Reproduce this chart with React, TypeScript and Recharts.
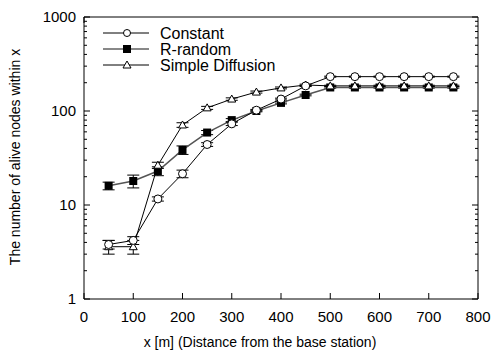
import React from 'react';
import { LineChart, Line, XAxis, YAxis, ErrorBar } from 'recharts';

// distance from base station (m)
const distances = [50, 100, 150, 200, 250, 300, 350, 400, 450, 500, 550, 600, 650, 700, 750];
const constantVals = [3.8, 4.2, 11.6, 21.5, 44, 73, 102, 134, 185, 232, 232, 232, 232, 232, 232];
const constantErr = [0.4, 0.4, 0.6, 2, 2, 3, 2, 3, 3, 3, 3, 3, 3, 3, 3];
const rRandomVals = [16, 18, 23, 38.5, 59, 80, 100, 122, 148, 178, 178, 178, 178, 178, 178];
const rRandomErr = [1.5, 2.8, 2.5, 4, 3, 3, 2, 3, 3, 3, 3, 3, 3, 3, 3];
const diffusionVals = [3.6, 3.6, 26.5, 71, 108, 134, 159, 176, 189, 185, 185, 185, 185, 185, 185];
const diffusionErr = [0.6, 0.6, 2, 4, 4, 4, 4, 4, 4, 3, 3, 3, 3, 3, 3];

const xTicks = [0, 100, 200, 300, 400, 500, 600, 700, 800];
const yTicks = [1, 2, 3, 4, 5, 6, 7, 8, 9, 10, 20, 30, 40, 50, 60, 70, 80, 90, 100, 200, 300, 400, 500, 600, 700, 800, 900, 1000];
const majorY = [1, 10, 100, 1000];

const data = distances.map((x, i) => ({
  x,
  constant: constantVals[i],
  constantErr: constantErr[i],
  rRandom: rRandomVals[i],
  rRandomErr: rRandomErr[i],
  diffusion: diffusionVals[i],
  diffusionErr: diffusionErr[i],
}));

const FONT = '"Liberation Sans", Arial, Helvetica, sans-serif';
const PL = 84;
const PR = 478;
const PT = 17;
const PB = 299;
const RGRAY = '#555';

const LeftTick = (props: any) => {
  const { y, payload } = props;
  const major = majorY.includes(payload.value);
  return (
    <g>
      <line x1={PL} x2={PL + (major ? 6 : 3)} y1={y} y2={y} stroke="#000" />
      {major && (
        <text x={PL - 8} y={y} dy={5} textAnchor="end" fontSize={15} fontFamily={FONT} fill="#000">
          {payload.value}
        </text>
      )}
    </g>
  );
};

const RightTick = (props: any) => {
  const { y, payload } = props;
  const major = majorY.includes(payload.value);
  return <line x1={PR} x2={PR - (major ? 6 : 3)} y1={y} y2={y} stroke="#000" />;
};

const BottomTick = (props: any) => {
  const { x, payload } = props;
  return (
    <g>
      <line x1={x} x2={x} y1={PB} y2={PB - 6} stroke="#000" />
      <text x={x} y={PB + 23} textAnchor="middle" fontSize={15} fontFamily={FONT} fill="#000">
        {payload.value}
      </text>
    </g>
  );
};

const TopTick = (props: any) => {
  const { x } = props;
  return <line x1={x} x2={x} y1={PT} y2={PT + 6} stroke="#000" />;
};

const Circle = (props: any) => {
  const { cx, cy, key } = props;
  return <circle key={key} cx={cx} cy={cy} r={4} fill="#fff" stroke="#000" strokeWidth={1} />;
};

const Square = (props: any) => {
  const { cx, cy, key } = props;
  return <rect key={key} x={cx - 4} y={cy - 4} width={8} height={8} fill="#000" />;
};

const Triangle = (props: any) => {
  const { cx, cy, key } = props;
  return (
    <path key={key} d={`M${cx},${cy - 4} L${cx + 4},${cy + 3} L${cx - 4},${cy + 3} Z`} fill="#fff" stroke="#000" strokeWidth={1} />
  );
};

const legendRows = [
  { label: 'Constant', stroke: '#000', width: 1, marker: 'circle' },
  { label: 'R-random', stroke: '#888', width: 2, marker: 'square' },
  { label: 'Simple Diffusion', stroke: '#000', width: 1, marker: 'triangle' },
];

const ChartLegend = () => (
  <svg width={180} height={50} style={{ position: 'absolute', left: 103, top: 25 }}>
    {legendRows.map((r, i) => {
      const y = 8 + i * 16;
      return (
        <g key={r.label}>
          <line x1={0} x2={46} y1={y} y2={y} stroke={r.stroke} strokeWidth={r.width} />
          {r.marker === 'circle' && <circle cx={24} cy={y} r={3.5} fill="#fff" stroke="#000" />}
          {r.marker === 'square' && <rect x={20} y={y - 4} width={8} height={8} fill="#000" />}
          {r.marker === 'triangle' && (
            <path d={`M24,${y - 4} L28,${y + 3} L20,${y + 3} Z`} fill="#fff" stroke="#000" />
          )}
          <text x={57} y={y + 5.5} fontSize={16} fontFamily={FONT} fill="#000">
            {r.label}
          </text>
        </g>
      );
    })}
  </svg>
);

export default function App() {
  return (
    <div style={{ position: 'absolute', left: 0, top: 0, width: 491, height: 351, background: '#fff' }}>
      <LineChart width={491} height={351} data={data} margin={{ top: PT - 1, right: 12, bottom: 0, left: 24 }}>
        <XAxis
          dataKey="x"
          type="number"
          domain={[0, 800]}
          ticks={xTicks}
          height={52}
          axisLine={{ stroke: '#000' }}
          tickLine={false}
          tick={<BottomTick />}
          interval={0}
          label={{
            content: () => (
              <text x={260} y={347} textAnchor="middle" fontSize={14} fontFamily={FONT} fill="#000">
                x [m] (Distance from the base station)
              </text>
            ),
          }}
        />
        <XAxis
          xAxisId="top"
          orientation="top"
          type="number"
          domain={[0, 800]}
          ticks={xTicks}
          height={1}
          axisLine={{ stroke: '#000' }}
          tickLine={false}
          tick={<TopTick />}
          interval={0}
        />
        <YAxis
          type="number"
          scale="log"
          domain={[1, 1000]}
          ticks={yTicks}
          width={60}
          allowDataOverflow
          axisLine={{ stroke: '#000' }}
          tickLine={false}
          tick={<LeftTick />}
          interval={0}
          label={{
            content: () => (
              <text transform="translate(20,157) rotate(-90)" textAnchor="middle" fontSize={14} fontFamily={FONT} fill="#000">
                The number of alive nodes within x
              </text>
            ),
          }}
        />
        <YAxis
          yAxisId="right"
          orientation="right"
          type="number"
          scale="log"
          domain={[1, 1000]}
          ticks={yTicks}
          width={1}
          allowDataOverflow
          axisLine={{ stroke: '#000' }}
          tickLine={false}
          tick={<RightTick />}
          interval={0}
        />
        <Line dataKey="rRandom" stroke={RGRAY} strokeWidth={1.5} dot={Square} isAnimationActive={false}>
          <ErrorBar dataKey="rRandomErr" width={6} stroke="#000" strokeWidth={1} isAnimationActive={false} />
        </Line>
        <Line dataKey="diffusion" stroke="#000" strokeWidth={1} dot={Triangle} isAnimationActive={false}>
          <ErrorBar dataKey="diffusionErr" width={6} stroke="#000" strokeWidth={1} isAnimationActive={false} />
        </Line>
        <Line dataKey="constant" stroke="#000" strokeWidth={1} dot={Circle} isAnimationActive={false}>
          <ErrorBar dataKey="constantErr" width={6} stroke="#000" strokeWidth={1} isAnimationActive={false} />
        </Line>
      </LineChart>
      <ChartLegend />
    </div>
  );
}
